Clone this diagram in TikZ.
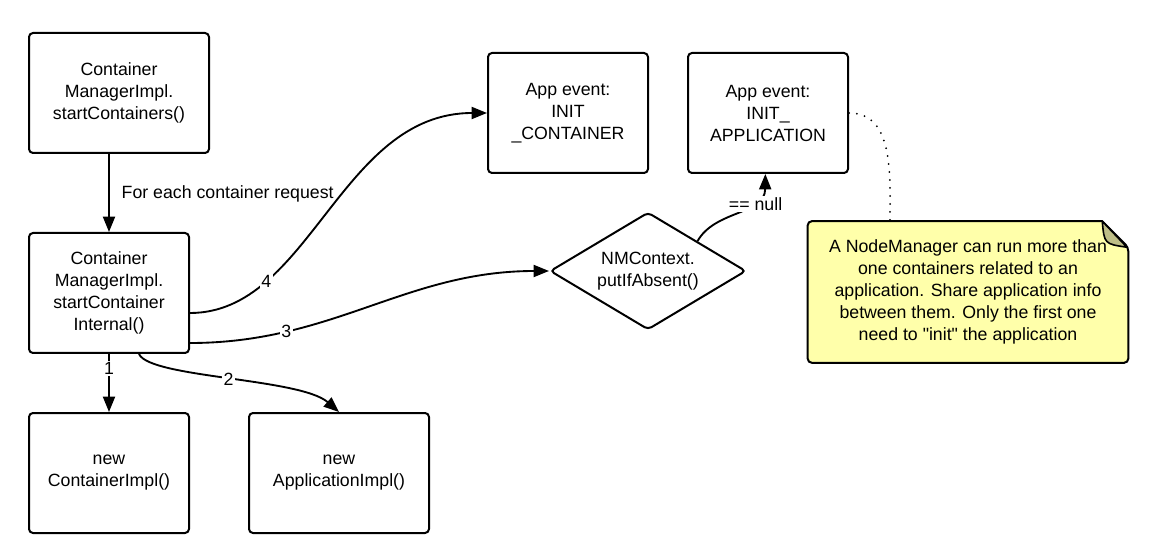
\documentclass[tikz,border=0pt]{standalone}
\usepackage{fontspec}
\setmainfont{Liberation Sans}
\usetikzlibrary{arrows.meta,shapes.geometric,positioning,backgrounds}
\definecolor{notefill}{RGB}{255,255,170}
\definecolor{foldfill}{RGB}{190,190,135}

\begin{document}
\begin{tikzpicture}[x=0.75pt,y=-0.75pt]
\tikzstyle{every node}+=[font=\fontsize{13.3}{16.5}\selectfont, align=center]
\tikzstyle{box}=[draw, line width=1.5pt, rounded corners=3pt, minimum width=120pt, minimum height=90pt, inner sep=0pt]
\tikzstyle{decision}=[draw, diamond, line width=1.5pt, rounded corners=3pt, minimum width=147pt, minimum height=88pt, aspect=1.67, inner sep=0pt]
\tikzstyle{notebox}=[minimum width=240pt, minimum height=105.75pt, inner sep=0pt]
\tikzstyle{arr}=[line width=1.4pt, -{Triangle[length=11.5pt,width=9pt]}]
\tikzstyle{lbl}=[fill=white, inner sep=1pt]
\useasboundingbox (0,0) rectangle (1149,559);
% boxes
\node[box, minimum width=135pt] (start) at (119,93) {Container\\ManagerImpl.\\startContainers()};
\node[box] (internal) at (109,293) {Container\\ManagerImpl.\\startContainer\\Internal()};
\node[box] (newcont) at (109,473) {new\\ContainerImpl()};
\node[box, minimum width=135pt] (newapp) at (339,473) {new\\ApplicationImpl()};
\node[box] (initcont) at (568,113) {App event:\\INIT\\\_CONTAINER};
\node[box] (initapp) at (768,113) {App event:\\INIT\_\\APPLICATION};
\node[decision] (put) at (648,271) {NMContext.\\putIfAbsent()};
\node[notebox] (note) at (968,292) {A NodeManager can run more than\\one containers related to an\\application. Share application info\\between them. Only the first one\\need to \textquotedbl init\textquotedbl{} the application};
\begin{pgfonlayer}{background}
\filldraw[line width=1.5pt, fill=notefill, rounded corners=3pt] ([xshift=-19.5pt]note.north east) -- (note.north west) -- (note.south west) -- (note.south east) -- ([yshift=-19.5pt]note.north east) [sharp corners] -- cycle;
\end{pgfonlayer}
\filldraw[line width=1.2pt, fill=foldfill, line join=round] ([xshift=-19.5pt]note.north east) .. controls ([xshift=-18pt,yshift=-17pt]note.north east) .. ([xshift=-1pt,yshift=-19.5pt]note.north east) -- cycle;
\coordinate (notetop) at (890,222);
% connectors
\draw[arr] (start.south -| internal.north) -- node[right=5.5pt, yshift=-1pt] {For each container request} (internal.north);
\draw[arr] (internal.south) -- node[lbl, pos=0.25] {1} (newcont.north);
\draw[arr] ([xshift=22.5pt]internal.south) .. controls (150,378) and (300,378) .. node[lbl] {2} (newapp.north);
\draw[arr] ([yshift=-37.5pt]internal.east) to[out=0,in=180] node[lbl, pos=0.25] {3} (put.west);
\draw[arr] ([yshift=-15pt]internal.east) .. controls (310,313) and (340,113) .. node[lbl, pos=0.25] {4} (initcont.west);
\draw[arr] (put.north east) .. controls (715,210) and (765,215) .. node[lbl, pos=0.65, xshift=4pt] {== null} ([xshift=-2pt]initapp.south);
\draw[line width=1.5pt, line cap=round, dash pattern=on 0pt off 6pt] (initapp.east) to[out=0,in=90] (notetop);
\end{tikzpicture}
\end{document}
